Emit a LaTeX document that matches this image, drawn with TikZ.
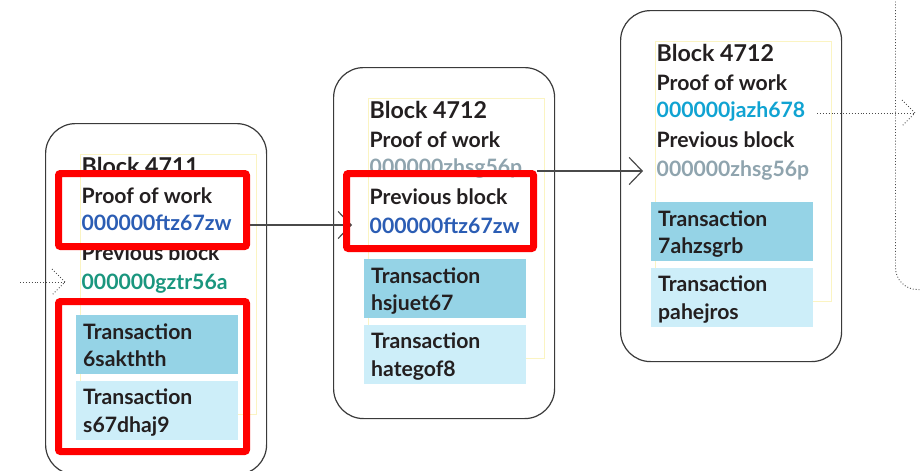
\documentclass[tikz,border=0pt]{standalone}
\usepackage{fontspec}
\setmainfont{Lato}
\usetikzlibrary{arrows.meta}

\definecolor{ink}{HTML}{231F20}
\definecolor{cardline}{HTML}{3A3A3A}
\definecolor{framey}{HTML}{FBF4C2}
\definecolor{txdark}{HTML}{95D3E6}
\definecolor{txlight}{HTML}{CDEEF9}
\definecolor{hashblue}{HTML}{2B5DB4}
\definecolor{hashgreen}{HTML}{1A967E}
\definecolor{hashcyan}{HTML}{10A3D2}
\definecolor{hashgrey}{HTML}{8FA4AE}
\definecolor{mark}{HTML}{FF0000}
\definecolor{wire}{HTML}{4A4A4A}

\tikzset{
  card/.style={draw=cardline, line width=1.2pt, rounded corners=30pt,
    minimum width=221pt, minimum height=351pt, inner sep=0pt, anchor=north west},
  frame/.style={draw=framey, line width=0.8pt, minimum width=176pt,
    minimum height=260pt, inner sep=0pt, anchor=north west},
  txbox/.style={minimum width=162pt, minimum height=59pt, inner sep=0pt, anchor=north west},
  titletext/.style={anchor=base west, inner sep=0pt, text=ink, font=\bfseries\fontsize{23.2}{25}\selectfont},
  bodytext/.style={anchor=base west, inner sep=0pt, text=ink, font=\bfseries\fontsize{21.2}{23}\selectfont},
  highlight/.style={draw=mark, line width=7pt, rounded corners=2pt},
  link/.style={draw=wire, line width=1.2pt, -{Straight Barb[length=13pt,width=27pt,line width=1.2pt]}},
  dotlink/.style={draw=wire, line width=0.9pt, dotted},
}

% one block of the chain: name, offset, title, proof-of-work hash,
% previous-block hash, two transaction ids
\newcommand\chaincard[7]{%
  \begin{scope}[shift={#2}]
    \node[card] (#1) at (0,0) {};
    \node[frame] (#1-frame) at (35,31) {};
    \node[txbox, fill=txdark] (#1-tx1) at (31,192) {};
    \node[txbox, fill=txlight] (#1-tx2) at (31,258) {};
    \node[titletext] (#1-title) at (36.5,51.5) {#3};
    \node[bodytext] (#1-powlabel) at (36.5,80.5) {Proof of work};
    \node[bodytext] (#1-pow) at (36.5,107) {#4};
    \node[bodytext] (#1-prevlabel) at (36.5,137) {Previous block};
    \node[bodytext] (#1-prev) at (36.5,166) {#5};
    \node[bodytext] (#1-tx1a) at (38,216) {Transaction};
    \node[bodytext] (#1-tx1b) at (38,243) {#6};
    \node[bodytext] (#1-tx2a) at (38,281.5) {Transaction};
    \node[bodytext] (#1-tx2b) at (38,309) {#7};
  \end{scope}}

\begin{document}
\begin{tikzpicture}[x=1pt, y=-1pt]
  \clip (0,0) rectangle (921,471);
  \useasboundingbox (0,0) rectangle (921,471);

  \chaincard{b1}{(45,123)}{Block 4711}
    {\textcolor{hashblue}{000000ftz67zw}}
    {\textcolor{hashgreen}{000000gztr56a}}
    {6sakthth}{s67dhaj9}
  \chaincard{b2}{(333,67)}{Block 4712}
    {\textcolor{hashgrey}{000000zhsg56p}}
    {\textcolor{hashblue}{000000ftz67zw}}
    {hsjuet67}{hategof8}
  \chaincard{b3}{(620,10)}{Block 4712}
    {\textcolor{hashcyan}{000000jazh678}}
    {\textcolor{hashgrey}{000000zhsg56p}}
    {7ahzsgrb}{pahejros}

  % next block, only its edge in view
  \node[draw=wire, line width=0.9pt, dotted, rounded corners=22pt,
        minimum width=120pt, minimum height=330pt, anchor=south west, inner sep=0pt]
        (b4) at (895,290) {};

  % links between the blocks
  \coordinate (in-start) at (20,282);
  \coordinate (in-end) at (65,282);
  \draw[dotlink] (in-start) -- (in-end);
  \draw[dotlink] ([shift={(-13,-13)}]in-end) -- (in-end) -- ([shift={(-13,13)}]in-end);

  \coordinate (a1-from) at (250,225);
  \coordinate (a1-to) at (352,225);
  \draw[link] (a1-from) -- (a1-to);

  \coordinate (a2-from) at (537,171);
  \coordinate (a2-to) at (643,171);
  \draw[link] (a2-from) -- (a2-to);

  \coordinate (out-start) at (817,113);
  \coordinate (out-end) at (915,113);
  \draw[dotlink] (out-start) -- (out-end);
  \draw[dotlink] ([shift={(-13,-13)}]out-end) -- (out-end) -- ([shift={(-13,13)}]out-end);

  % red highlight frames
  \draw[highlight] (58.5,173.5) rectangle (246.5,246.5);
  \draw[highlight] (58.5,301.5) rectangle (246.5,451.5);
  \draw[highlight] (346.5,173.5) rectangle (533.5,248.5);
\end{tikzpicture}
\end{document}
